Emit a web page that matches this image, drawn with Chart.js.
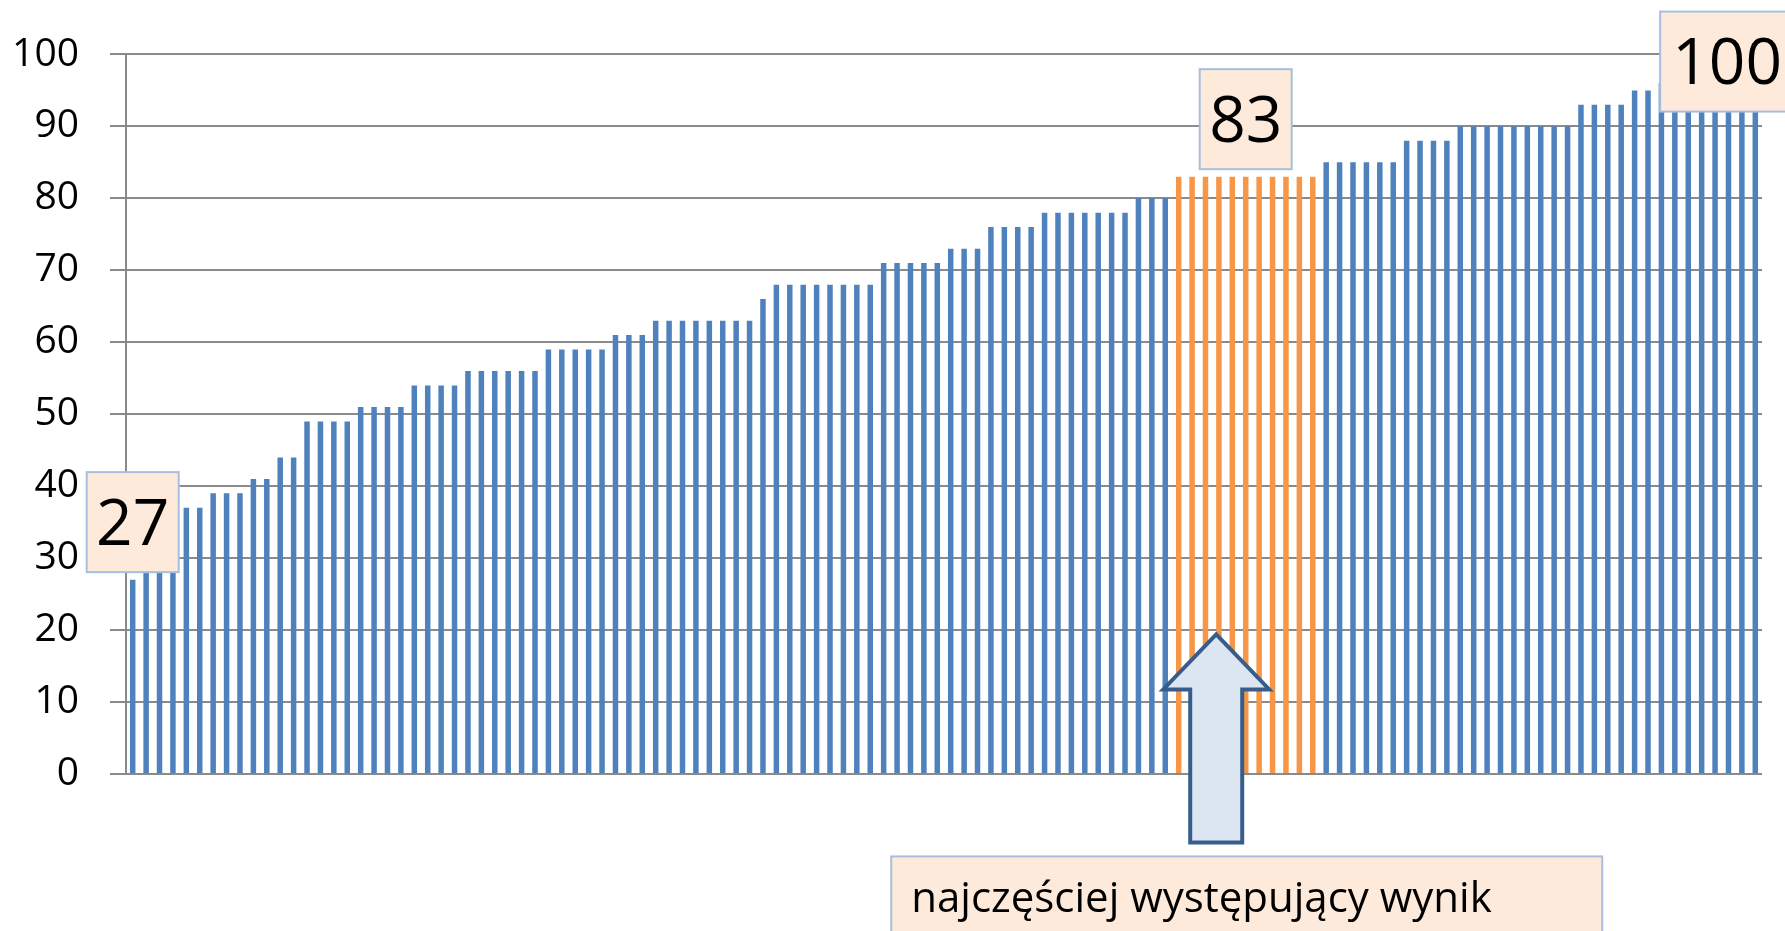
<!DOCTYPE html>
<html>
<head>
<meta charset="utf-8">
<script src="https://cdn.jsdelivr.net/npm/chart.js@4"></script>
<style>
  html, body { margin: 0; padding: 0; background: #ffffff; }
  #wrap { width: 1785px; height: 931px; position: relative; }
</style>
</head>
<body>
<div id="wrap"><canvas id="c" width="1785" height="931"></canvas></div>
<script>
// ---- data (sorted scores, one bar per result) ----
const scores = [
  27, 30, 33, 35, 37, 37, 39, 39, 39, 41, 41, 44, 44,
  49, 49, 49, 49, 51, 51, 51, 51, 54, 54, 54, 54,
  56, 56, 56, 56, 56, 56, 59, 59, 59, 59, 59, 61, 61, 61,
  63, 63, 63, 63, 63, 63, 63, 63, 66,
  68, 68, 68, 68, 68, 68, 68, 68, 71, 71, 71, 71, 71, 73, 73, 73,
  76, 76, 76, 76, 78, 78, 78, 78, 78, 78, 78, 80, 80, 80,
  83, 83, 83, 83, 83, 83, 83, 83, 83, 83, 83,
  85, 85, 85, 85, 85, 85, 88, 88, 88, 88,
  90, 90, 90, 90, 90, 90, 90, 90, 90, 93, 93, 93, 93, 95, 95,
  96, 96, 97, 98, 98, 99, 100, 100
];
const categories = scores.map((_, i) => String(i + 1));
const yTicks = [0, 10, 20, 30, 40, 50, 60, 70, 80, 90, 100];
const minLabel = '27';
const modeLabel = '83';
const maxLabel = '100';
const caption = 'najczęściej występujący wynik';

// most frequent value
const counts = {};
scores.forEach(v => counts[v] = (counts[v] || 0) + 1);
let modeVal = scores[0];
Object.keys(counts).forEach(k => { if (counts[k] > counts[modeVal]) modeVal = +k; });

const BLUE = '#4F81BD', ORANGE = '#F79646';
const barColors = scores.map(v => v === modeVal ? ORANGE : BLUE);

const FILL = '#FDEADA', EDGE = '#A7BFDE';

function labelBox(ctx, cx, cy, w, h, text, size) {
  ctx.save();
  ctx.fillStyle = FILL;
  ctx.strokeStyle = EDGE;
  ctx.lineWidth = 2;
  ctx.fillRect(cx - w / 2, cy - h / 2, w, h);
  ctx.strokeRect(cx - w / 2, cy - h / 2, w, h);
  ctx.fillStyle = '#000';
  ctx.font = size + 'px "Open Sans"';
  ctx.textAlign = 'center';
  ctx.textBaseline = 'alphabetic';
  ctx.fillText(text, cx, cy + 0.357 * size);
  ctx.restore();
}

const annotations = {
  id: 'annotations',
  afterDraw(chart) {
    const ctx = chart.ctx;
    const xs = chart.scales.x, ys = chart.scales.y;
    const pitch = xs.getPixelForValue(1) - xs.getPixelForValue(0);
    const iMode = scores.indexOf(modeVal) + Math.floor(counts[modeVal] / 2);

    // arrow pointing at the mode bars
    const tipX = xs.getPixelForValue(scores.indexOf(modeVal)) + 2.8 * pitch;
    const tipY = ys.getPixelForValue(19.4);
    ctx.save();
    ctx.beginPath();
    ctx.moveTo(tipX, tipY);
    ctx.lineTo(tipX + 53, tipY + 55);
    ctx.lineTo(tipX + 26, tipY + 55);
    ctx.lineTo(tipX + 26, tipY + 208);
    ctx.lineTo(tipX - 26, tipY + 208);
    ctx.lineTo(tipX - 26, tipY + 55);
    ctx.lineTo(tipX - 53, tipY + 55);
    ctx.closePath();
    ctx.fillStyle = '#DCE6F2';
    ctx.fill();
    ctx.lineWidth = 4;
    ctx.lineJoin = 'miter';
    ctx.strokeStyle = '#385D8A';
    ctx.stroke();

    // caption box
    const bx = tipX - 325, by = tipY + 222;
    ctx.fillStyle = FILL;
    ctx.strokeStyle = EDGE;
    ctx.lineWidth = 2;
    ctx.fillRect(bx, by, 711, 100);
    ctx.strokeRect(bx, by, 711, 100);
    ctx.fillStyle = '#000';
    ctx.font = '42px "Open Sans"';
    ctx.textAlign = 'left';
    ctx.textBaseline = 'alphabetic';
    ctx.fillText(caption, bx + 20, by + 56);
    ctx.restore();

    // value labels
    labelBox(ctx, xs.getPixelForValue(0), ys.getPixelForValue(35), 92, 100, minLabel, 64);
    labelBox(ctx, xs.getPixelForValue(iMode), ys.getPixelForValue(91), 92, 100, modeLabel, 64);
    labelBox(ctx, xs.getPixelForValue(scores.length - 1) - 2.1 * pitch, ys.getPixelForValue(99), 134, 100, maxLabel, 64);
  }
};

new Chart(document.getElementById('c'), {
  type: 'bar',
  data: {
    labels: categories,
    datasets: [{
      data: scores,
      backgroundColor: barColors,
      borderWidth: 0,
      barPercentage: 0.41,
      categoryPercentage: 1.0
    }]
  },
  options: {
    responsive: false,
    animation: false,
    devicePixelRatio: 1,
    layout: { padding: { left: 0, top: 51, right: 23, bottom: 157 } },
    plugins: { legend: { display: false }, tooltip: { enabled: false } },
    scales: {
      x: { display: false },
      y: {
        min: 0, max: 100,
        afterBuildTicks(s) { s.ticks = yTicks.map(v => ({ value: v })); },
        afterFit(s) { s.width = 126; },
        ticks: {
          color: '#000',
          padding: 31,
          font: { family: 'Open Sans', size: 39 }
        },
        grid: { color: '#8A8A8A', lineWidth: 2, tickLength: 16, drawTicks: true },
        border: { display: true, color: '#8A8A8A', width: 2 }
      }
    }
  },
  plugins: [annotations]
});
</script>
</body>
</html>
